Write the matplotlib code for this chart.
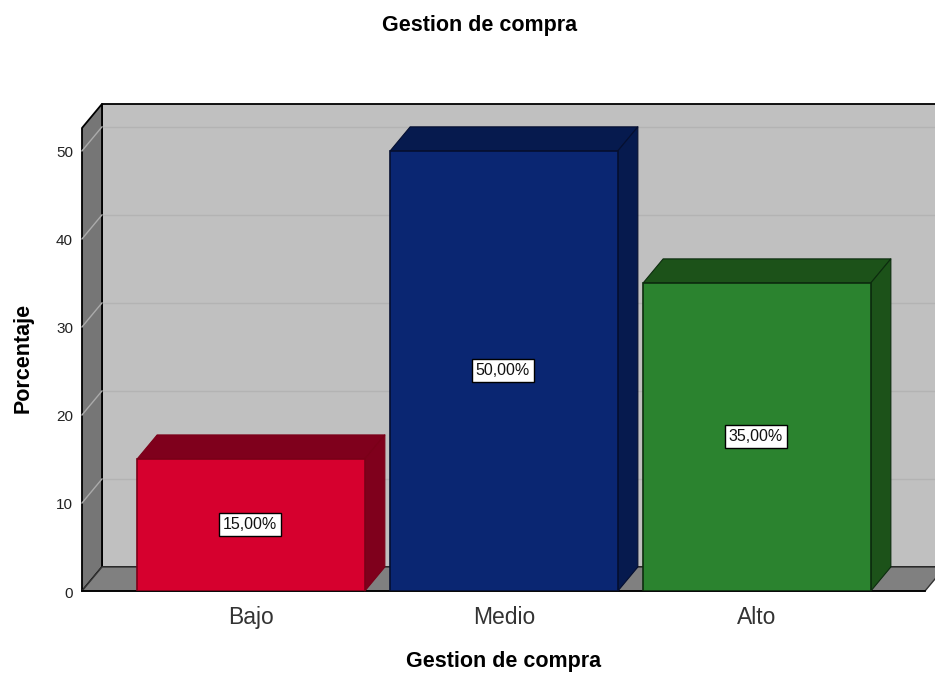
import matplotlib
matplotlib.use("Agg")
import matplotlib.pyplot as plt
from matplotlib.patches import Polygon
from matplotlib.transforms import ScaledTranslation

plt.rcParams['font.family'] = ['Liberation Sans', 'DejaVu Sans']

categorias = ["Bajo", "Medio", "Alto"]
porcentajes = [15, 50, 35]
etiquetas = ["15,00%", "50,00%", "35,00%"]
ticks_y = [0, 10, 20, 30, 40, 50]
color_frente = ["#d6002e", "#0a2672", "#2b832f"]
color_lado = ["#7f001c", "#061a4e", "#1c5219"]
color_borde = ["#7a0018", "#050f30", "#0c2c0e"]

ANCHO = 0.9
DX = 0.079     # profundidad del efecto 3D, en unidades de x
DY = 2.73      # profundidad del efecto 3D, en unidades de y
X_MIN, X_MAX = -0.668, 2.664
Y_MAX = 52.6

fig = plt.figure(figsize=(9.35, 6.74), dpi=100)
ax = fig.add_axes([82 / 935, 1 - 591 / 674, (925 - 82) / 935, (591 - 128) / 674])
ax.set_xlim(X_MIN, X_MAX)
ax.set_ylim(0, Y_MAX)
for s in ax.spines.values():
    s.set_visible(False)


def cara(puntos, color, z, borde="black", lw=1.3):
    ax.add_patch(Polygon(puntos, closed=True, facecolor=color, edgecolor=borde,
                         linewidth=lw, clip_on=False, zorder=z, joinstyle="round"))


# paredes y suelo
cara([(X_MIN + DX, DY), (X_MAX + DX, DY), (X_MAX + DX, Y_MAX + DY), (X_MIN + DX, Y_MAX + DY)], "#c0c0c0", 1)
cara([(X_MIN, 0), (X_MIN + DX, DY), (X_MIN + DX, Y_MAX + DY), (X_MIN, Y_MAX)], "#767676", 2)
cara([(X_MIN, 0), (X_MAX, 0), (X_MAX + DX, DY), (X_MIN + DX, DY)], "#808080", 2, borde="#333333", lw=1.0)
ax.plot([X_MIN, X_MAX], [0, 0], color="black", lw=1.3, clip_on=False, zorder=2.6)

# lineas de la rejilla
for v in ticks_y[1:]:
    ax.plot([X_MIN + DX, X_MAX + DX], [v + DY, v + DY], color="#b3b3b3", lw=1, clip_on=False, zorder=1.5)
    ax.plot([X_MIN, X_MIN + DX], [v, v + DY], color="#ababab", lw=1, clip_on=False, zorder=2.5)

# barras con sus caras superior y lateral
pos = list(range(len(categorias)))
ax.bar(pos, porcentajes, width=ANCHO, color=color_frente, edgecolor=color_borde, linewidth=1.2, zorder=5)
for i, v in enumerate(porcentajes):
    izq, der = i - ANCHO / 2, i + ANCHO / 2
    cara([(izq, v), (izq + DX, v + DY), (der + DX, v + DY), (der, v)], color_lado[i], 4, borde=color_borde[i], lw=0.8)
    cara([(der, 0), (der + DX, DY), (der + DX, v + DY), (der, v)], color_lado[i], 4, borde=color_borde[i], lw=0.8)
    ax.text(i - 0.005, v / 2, etiquetas[i], ha="center", va="center", fontsize=11.5, color="#111111", zorder=6,
            bbox=dict(boxstyle="square,pad=0.25", facecolor="white", edgecolor="black", linewidth=1))

ax.set_xticks(pos)
ax.set_xticklabels(categorias, fontsize=16.5, color="#333333")
ax.set_yticks(ticks_y)
ax.set_yticklabels([str(t) for t in ticks_y], fontsize=11, color="#222222")
ax.tick_params(axis="x", length=0, pad=11)
ax.tick_params(axis="y", length=0, pad=6.5)
# los numeros del eje y quedan un poco por debajo de su linea
for lab in ax.get_yticklabels():
    lab.set_transform(lab.get_transform() + ScaledTranslation(0, -1 / 100, fig.dpi_scale_trans))

fig.text(480 / 935, 1 - 26 / 674, "Gestion de compra", ha="center", va="center", fontsize=15.5, fontweight="bold")
fig.text(504 / 935, 1 - 662 / 674, "Gestion de compra", ha="center", va="center", fontsize=15.5, fontweight="bold")
fig.text(23 / 935, 1 - 358 / 674, "Porcentaje", ha="center", va="center", rotation=90, fontsize=15.5, fontweight="bold")

fig.savefig("out.png", dpi=100)
